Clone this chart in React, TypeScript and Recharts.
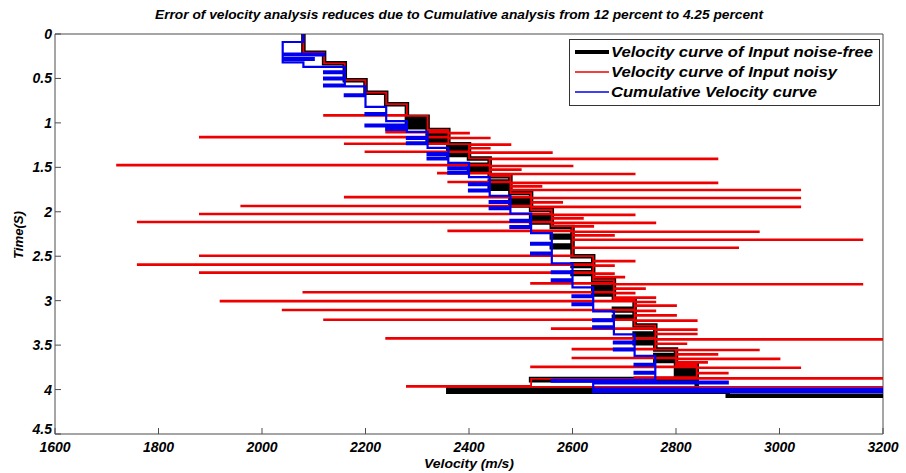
import React from 'react';
import { ScatterChart, Scatter, XAxis, YAxis } from 'recharts';

const VEL_TICKS = [1600, 1800, 2000, 2200, 2400, 2600, 2800, 3000, 3200];
const TIME_TICKS = [0, 0.5, 1, 1.5, 2, 2.5, 3, 3.5, 4, 4.5];
const SERIES_NAMES = [
  'Velocity curve of Input noise-free',
  'Velocity curve of Input noisy',
  'Cumulative Velocity curve',
];
const END_TIME = 4.1;

// stairs samples [time (s), velocity (m/s)]: velocity holds until the next sample's time
const cleanSamples: [number, number][] = [
  [0, 2080], [0.21, 2120], [0.33, 2160], [0.52, 2200], [0.66, 2240], [0.79, 2280],
  [0.93, 2320], [0.98, 2280], [1.0, 2320], [1.03, 2280], [1.05, 2320],
  [1.08, 2360], [1.13, 2320], [1.15, 2360], [1.18, 2320], [1.2, 2360],
  [1.24, 2400], [1.29, 2360], [1.31, 2400], [1.34, 2360], [1.36, 2400],
  [1.4, 2440], [1.47, 2400], [1.49, 2440], [1.53, 2400], [1.55, 2440],
  [1.6, 2480], [1.66, 2440], [1.68, 2480], [1.72, 2440], [1.74, 2480],
  [1.79, 2520], [1.85, 2480], [1.87, 2520], [1.91, 2480], [1.93, 2520],
  [1.98, 2560], [2.04, 2520], [2.06, 2560], [2.1, 2520], [2.12, 2560],
  [2.17, 2600], [2.27, 2560], [2.29, 2600], [2.38, 2560], [2.4, 2600],
  [2.5, 2640], [2.59, 2600], [2.61, 2640], [2.68, 2600], [2.7, 2640],
  [2.77, 2680], [2.84, 2640], [2.86, 2680], [2.91, 2640], [2.93, 2680],
  [2.99, 2720], [3.09, 2680], [3.11, 2720], [3.18, 2680], [3.2, 2720],
  [3.28, 2760], [3.37, 2720], [3.39, 2760], [3.46, 2720], [3.48, 2760],
  [3.55, 2800], [3.61, 2760], [3.63, 2800], [3.66, 2760], [3.68, 2800],
  [3.72, 2840], [3.77, 2800], [3.79, 2840], [3.82, 2800], [3.84, 2840],
  [3.88, 2520], [3.895, 2840], [4.0, 2360], [4.025, 2900], [4.07, 3300],
];

const noisySamples: [number, number][] = [
  [0, 2080], [0.21, 2120], [0.33, 2160], [0.52, 2200], [0.66, 2240], [0.79, 2280],
  [0.91, 2120], [0.92, 2320], [1.08, 2360], [1.1, 2240], [1.11, 2400], [1.12, 2360],
  [1.155, 1880], [1.165, 2440], [1.175, 2360], [1.23, 2160], [1.24, 2480], [1.25, 2400],
  [1.28, 2440], [1.29, 2400], [1.32, 2200], [1.33, 2560], [1.34, 2400], [1.4, 2880],
  [1.41, 2440], [1.47, 1720], [1.48, 2600], [1.49, 2440], [1.52, 2500], [1.53, 2440],
  [1.56, 2340], [1.57, 2720], [1.58, 2440], [1.6, 2480], [1.66, 2360], [1.67, 2880],
  [1.68, 2480], [1.71, 2540], [1.72, 2480], [1.75, 3040], [1.76, 2480], [1.79, 2520],
  [1.83, 2160], [1.84, 3040], [1.85, 2520], [1.89, 2580], [1.9, 2520], [1.93, 1960],
  [1.94, 3040], [1.95, 2520], [1.98, 2560], [2.02, 1880], [2.03, 2720], [2.04, 2560],
  [2.07, 2620], [2.08, 2560], [2.11, 1760], [2.12, 2760], [2.13, 2560], [2.16, 2640],
  [2.17, 2600], [2.21, 2360], [2.22, 2960], [2.23, 2600], [2.26, 2680], [2.27, 2600],
  [2.31, 3160], [2.32, 2600], [2.4, 2920], [2.41, 2600], [2.49, 1880], [2.5, 2640],
  [2.55, 2720], [2.56, 2640], [2.59, 1760], [2.6, 2680], [2.61, 2640], [2.68, 1880],
  [2.69, 2680], [2.7, 2640], [2.73, 2700], [2.74, 2640], [2.77, 2680], [2.8, 2520],
  [2.81, 3160], [2.82, 2680], [2.86, 2740], [2.87, 2680], [2.9, 2080], [2.91, 2720],
  [2.92, 2680], [2.96, 2760], [2.97, 2680], [2.99, 2720], [3.0, 1920], [3.01, 2760],
  [3.02, 2720], [3.05, 2800], [3.06, 2720], [3.1, 2040], [3.11, 2760], [3.12, 2720],
  [3.16, 2800], [3.17, 2720], [3.21, 2120], [3.22, 2840], [3.23, 2720], [3.28, 2760],
  [3.31, 2560], [3.32, 2840], [3.33, 2760], [3.37, 2840], [3.38, 2760], [3.42, 2240],
  [3.43, 3300], [3.44, 2760], [3.48, 2820], [3.49, 2760], [3.54, 2600], [3.55, 2960],
  [3.56, 2800], [3.6, 2880], [3.61, 2800], [3.64, 2600], [3.65, 3000], [3.66, 2800],
  [3.69, 2860], [3.7, 2800], [3.72, 2840], [3.74, 2520], [3.75, 3040], [3.76, 2840],
  [3.81, 2900], [3.82, 2840], [3.86, 2720], [3.87, 3300], [3.88, 2520], [3.96, 2280],
  [3.97, 3300],
];

const cumSamples: [number, number][] = [
  [0, 2080], [0.09, 2040], [0.22, 2120], [0.24, 2040], [0.27, 2100], [0.29, 2040],
  [0.32, 2080], [0.37, 2160], [0.42, 2120], [0.44, 2160], [0.49, 2120], [0.51, 2160],
  [0.57, 2120], [0.59, 2200], [0.68, 2160], [0.7, 2200], [0.82, 2240], [0.89, 2200],
  [0.91, 2240], [0.98, 2280], [1.02, 2200], [1.04, 2280], [1.06, 2240], [1.08, 2280],
  [1.1, 2320], [1.16, 2280], [1.18, 2320], [1.22, 2280], [1.24, 2320],
  [1.28, 2360], [1.34, 2320], [1.36, 2360], [1.39, 2320], [1.41, 2360],
  [1.45, 2400], [1.5, 2360], [1.52, 2400], [1.55, 2360], [1.57, 2400],
  [1.61, 2440], [1.68, 2400], [1.7, 2440], [1.75, 2400], [1.77, 2440],
  [1.82, 2480], [1.88, 2440], [1.9, 2480], [1.95, 2440], [1.97, 2480],
  [2.02, 2520], [2.09, 2480], [2.11, 2520], [2.16, 2480], [2.18, 2520],
  [2.24, 2560], [2.35, 2520], [2.37, 2560], [2.46, 2520], [2.48, 2560],
  [2.58, 2600], [2.67, 2560], [2.69, 2600], [2.76, 2560], [2.78, 2600],
  [2.85, 2640], [2.94, 2600], [2.96, 2640], [3.03, 2600], [3.05, 2640],
  [3.12, 2680], [3.21, 2640], [3.23, 2680], [3.29, 2640], [3.31, 2680],
  [3.38, 2720], [3.46, 2680], [3.48, 2720], [3.54, 2680], [3.56, 2720],
  [3.62, 2760], [3.71, 2720], [3.73, 2760], [3.8, 2720], [3.82, 2760],
  [3.89, 2560], [3.91, 2900], [3.93, 2640], [3.99, 3300], [4.01, 2640], [4.03, 3300],
];

function stairs(samples: [number, number][]) {
  const pts: { v: number; t: number }[] = [];
  samples.forEach(([t, v], i) => {
    pts.push({ v, t });
    pts.push({ v, t: i + 1 < samples.length ? samples[i + 1][0] : END_TIME });
  });
  return pts;
}

const FONT = "'Liberation Sans', Arial, Helvetica, sans-serif";
const AXIS_COLOR = '#4d4d4d';
const tickText = {
  fontFamily: FONT,
  fontSize: 14,
  fontWeight: 700,
  fontStyle: 'italic',
  fill: '#000',
};
const noMark = () => <g />;

// the bottom time label sits a little above its tick, as in the original
function TimeTick(props: any) {
  const { x, y, payload } = props;
  const lift = payload.value === 4.5 ? -5 : 0;
  return (
    <text x={x} y={y + lift} dy="0.355em" textAnchor="end" {...tickText}>
      {payload.value}
    </text>
  );
}

export default function App() {
  const clean = stairs(cleanSamples);
  const noisy = stairs(noisySamples);
  const cum = stairs(cumSamples);

  return (
    <div style={{ position: 'absolute', left: 0, top: 0, width: 906, height: 473, background: '#fff' }}>
      <ScatterChart width={906} height={473} margin={{ top: 33, right: 22, bottom: 0, left: 0 }}>
        <XAxis
          type="number"
          dataKey="v"
          domain={[1600, 3200]}
          ticks={VEL_TICKS}
          allowDataOverflow
          height={39}
          tickSize={-6}
          tickMargin={14}
          tick={tickText}
          axisLine={{ stroke: AXIS_COLOR }}
          tickLine={{ stroke: AXIS_COLOR }}
        />
        <XAxis
          xAxisId="top"
          orientation="top"
          type="number"
          dataKey="v"
          domain={[1600, 3200]}
          ticks={VEL_TICKS}
          allowDataOverflow
          height={1}
          tickSize={-6}
          tick={false}
          axisLine={{ stroke: AXIS_COLOR }}
          tickLine={{ stroke: AXIS_COLOR }}
        />
        <YAxis
          type="number"
          dataKey="t"
          domain={[0, 4.5]}
          ticks={TIME_TICKS}
          reversed
          allowDataOverflow
          width={55}
          tickSize={-6}
          tickMargin={9}
          tick={TimeTick}
          axisLine={{ stroke: AXIS_COLOR }}
          tickLine={{ stroke: AXIS_COLOR }}
        />
        <YAxis
          yAxisId="right"
          orientation="right"
          type="number"
          dataKey="t"
          domain={[0, 4.5]}
          ticks={TIME_TICKS}
          reversed
          allowDataOverflow
          width={1}
          tickSize={-6}
          tick={false}
          axisLine={{ stroke: AXIS_COLOR }}
          tickLine={{ stroke: AXIS_COLOR }}
        />
        <Scatter
          name={SERIES_NAMES[0]}
          data={clean}
          shape={noMark}
          line={{ stroke: '#000000', strokeWidth: 4.5, fill: 'none' }}
          lineType="joint"
          isAnimationActive={false}
        />
        <Scatter
          name={SERIES_NAMES[1]}
          data={noisy}
          shape={noMark}
          line={{ stroke: '#ee0000', strokeWidth: 1.8, fill: 'none' }}
          lineType="joint"
          isAnimationActive={false}
        />
        <Scatter
          name={SERIES_NAMES[2]}
          data={cum}
          shape={noMark}
          line={{ stroke: '#0000ee', strokeWidth: 2.2, fill: 'none' }}
          lineType="joint"
          isAnimationActive={false}
        />
      </ScatterChart>

      <svg
        width={906}
        height={473}
        style={{ position: 'absolute', left: 0, top: 0, pointerEvents: 'none' }}
        fontFamily={FONT}
        fontWeight={700}
        fontStyle="italic"
      >
        <text x={155} y={19} fontSize={13} textLength={608} lengthAdjust="spacingAndGlyphs">
          Error of velocity analysis reduces due to Cumulative analysis from 12 percent to 4.25 percent
        </text>
        <text x={424} y={468} fontSize={13} textLength={90} lengthAdjust="spacingAndGlyphs">
          Velocity (m/s)
        </text>
        <text
          x={0}
          y={0}
          fontSize={13}
          textLength={48}
          lengthAdjust="spacingAndGlyphs"
          transform="translate(23 259) rotate(-90)"
        >
          Time(S)
        </text>

        <rect x={569.5} y={39.5} width={310} height={66} fill="#fff" stroke="#333" />
        <line x1={575} x2={609} y1={52} y2={52} stroke="#000" strokeWidth={4} />
        <line x1={575} x2={609} y1={72} y2={72} stroke="#ee0000" strokeWidth={1.5} />
        <line x1={575} x2={609} y1={92} y2={92} stroke="#0000ee" strokeWidth={1.5} />
        <text x={611} y={57} fontSize={14} textLength={262} lengthAdjust="spacingAndGlyphs">
          {SERIES_NAMES[0]}
        </text>
        <text x={611} y={77} fontSize={14} textLength={226} lengthAdjust="spacingAndGlyphs">
          {SERIES_NAMES[1]}
        </text>
        <text x={611} y={97} fontSize={14} textLength={206} lengthAdjust="spacingAndGlyphs">
          {SERIES_NAMES[2]}
        </text>
      </svg>
    </div>
  );
}
